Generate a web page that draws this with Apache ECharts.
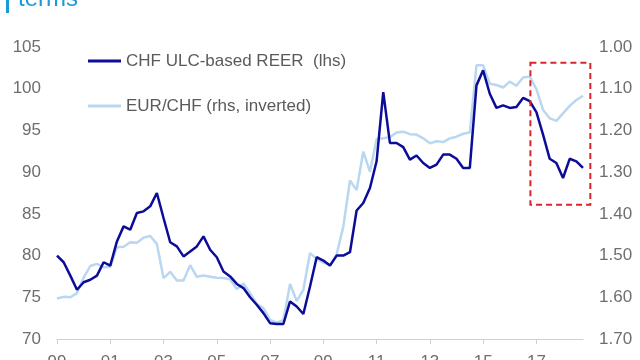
<!DOCTYPE html>
<html>
<head>
<meta charset="utf-8">
<script src="https://cdn.jsdelivr.net/npm/echarts@6/dist/echarts.min.js"></script>
<style>
html,body{margin:0;padding:0;background:#fff;}
#main{width:640px;height:360px;}
</style>
</head>
<body>
<div id="main"></div>
<script>
// Quarterly data, 1999 Q1 .. 2018 Q4
const startYear = 1999;
const nQuarters = 80;
const categories = [];
for (let i = 0; i < nQuarters; i++) {
  categories.push((startYear + Math.floor(i / 4)) + ' Q' + (i % 4 + 1));
}
const tickLabels = ['99','01','03','05','07','09','11','13','15','17'];

const seriesNames = ['CHF ULC-based REER  (lhs)', 'EUR/CHF (rhs, inverted)'];

const reer = [80.0, 79.2, 77.6, 75.9, 76.8, 77.1, 77.6, 79.2, 78.8, 81.7,
  83.5, 83.1, 85.1, 85.3, 85.9, 87.5, 84.5, 81.6, 81.1, 79.9,
  80.5, 81.1, 82.3, 80.7, 79.8, 78.1, 77.5, 76.6, 76.1, 75.0,
  74.1, 73.1, 71.9, 71.8, 71.8, 74.5, 73.9, 73.0, 76.3, 79.8,
  79.4, 78.8, 80.0, 80.0, 80.4, 85.4, 86.3, 88.1, 91.3, 99.6,
  93.5, 93.5, 93.0, 91.5, 92.0, 91.1, 90.5, 90.9, 92.1, 92.1,
  91.6, 90.5, 90.5, 100.4, 102.2, 99.4, 97.7, 98.0, 97.7, 97.8,
  98.9, 98.5, 97.2, 94.5, 91.6, 91.1, 89.3, 91.6, 91.3, 90.5];

const eurchf = [1.603, 1.599, 1.600, 1.590, 1.553, 1.525, 1.520, 1.528, 1.527, 1.480,
  1.479, 1.468, 1.469, 1.457, 1.453, 1.472, 1.554, 1.539, 1.560, 1.560,
  1.523, 1.551, 1.548, 1.551, 1.553, 1.554, 1.557, 1.580, 1.567, 1.590,
  1.616, 1.626, 1.654, 1.661, 1.655, 1.568, 1.609, 1.582, 1.494, 1.508,
  1.517, 1.523, 1.497, 1.431, 1.320, 1.343, 1.251, 1.299, 1.221, 1.219,
  1.216, 1.205, 1.203, 1.209, 1.210, 1.219, 1.231, 1.226, 1.228, 1.219,
  1.215, 1.208, 1.205, 1.044, 1.044, 1.088, 1.091, 1.097, 1.083, 1.093,
  1.073, 1.071, 1.101, 1.151, 1.171, 1.177, 1.159, 1.141, 1.127, 1.117];

// Highlight box in data space (category index range, lhs value range)
const boxIndex = [71.1, 80.1];
const boxValue = [103.1, 86.1];

const FONT = '"Liberation Sans", Arial, Helvetica, sans-serif';
const LABEL = '#6e6e6e';
const DARK = '#0c0c98';
const LIGHT = '#b9d7f0';

const chart = echarts.init(document.getElementById('main'), null, {renderer: 'canvas'});
const option = {
  animation: false,
  backgroundColor: '#ffffff',
  textStyle: {fontFamily: FONT},
  grid: {left: 57, right: 57, top: 47, bottom: 21, containLabel: false, outerBoundsMode: 'none'},
  legend: {
    orient: 'vertical',
    left: 88,
    top: 52,
    padding: 0,
    itemWidth: 33,
    itemHeight: 3,
    itemGap: 27,
    icon: 'rect',
    textStyle: {fontSize: 17, color: '#5a5a5a', fontFamily: FONT, lineHeight: 18},
    data: [
      {name: seriesNames[0], icon: 'rect', itemStyle: {color: DARK}},
      {name: seriesNames[1], icon: 'rect', itemStyle: {color: LIGHT}}
    ]
  },
  xAxis: {
    type: 'category',
    data: categories,
    boundaryGap: false,
    axisLine: {show: true, lineStyle: {color: '#d0d0d0', width: 1}},
    axisTick: {show: true, interval: 7, length: 5, lineStyle: {color: '#d0d0d0'}},
    axisLabel: {
      interval: 7, margin: 15, fontSize: 17, color: LABEL, fontFamily: FONT,
      formatter: function (v, idx) { return tickLabels[Math.round(idx / 8)] || ''; }
    },
    splitLine: {show: false}
  },
  yAxis: [
    {
      type: 'value', min: 70, max: 105, interval: 5, position: 'left',
      axisLine: {show: false}, axisTick: {show: false}, splitLine: {show: false},
      axisLabel: {margin: 16, fontSize: 17, color: LABEL, fontFamily: FONT}
    },
    {
      type: 'value', min: 1.0, max: 1.7, interval: 0.1, inverse: true, position: 'right',
      axisLine: {show: false}, axisTick: {show: false}, splitLine: {show: false},
      axisLabel: {margin: 16, fontSize: 17, color: LABEL, fontFamily: FONT,
        formatter: function (v) { return v.toFixed(2); }}
    }
  ],
  series: [
    {
      name: seriesNames[1], type: 'line', yAxisIndex: 1, data: eurchf,
      symbol: 'none', showSymbol: false,
      lineStyle: {color: LIGHT, width: 2.5},
      itemStyle: {color: LIGHT},
      z: 2
    },
    {
      name: seriesNames[0], type: 'line', yAxisIndex: 0, data: reer,
      symbol: 'none', showSymbol: false,
      lineStyle: {color: DARK, width: 2.5},
      itemStyle: {color: DARK},
      z: 3
    }
  ]
};
chart.setOption(option);

// Annotation box placed via the axes' own scales
const p0 = chart.convertToPixel({xAxisIndex: 0, yAxisIndex: 0}, [0, boxValue[0]]);
const p1 = chart.convertToPixel({xAxisIndex: 0, yAxisIndex: 0}, [1, boxValue[1]]);
const step = p1[0] - p0[0];
const bx0 = p0[0] + boxIndex[0] * step;
const bx1 = p0[0] + boxIndex[1] * step;
const by0 = p0[1];
const by1 = p1[1];

chart.setOption({
  graphic: [
    {
      type: 'rect',
      shape: {x: bx0, y: by0, width: bx1 - bx0, height: by1 - by0},
      style: {fill: 'none', stroke: '#d8262c', lineWidth: 2, lineDash: [6, 4]},
      z: 10
    },
    {
      type: 'rect',
      shape: {x: 6, y: -4, width: 3, height: 17},
      style: {fill: '#1a9ad6'},
      z: 10
    },
    {
      type: 'text',
      x: 18, y: 11,
      style: {text: 'terms', font: '24px ' + FONT, fill: '#1a9ad6',
        textAlign: 'left', textVerticalAlign: 'bottom'},
      z: 10
    }
  ]
});
</script>
</body>
</html>
